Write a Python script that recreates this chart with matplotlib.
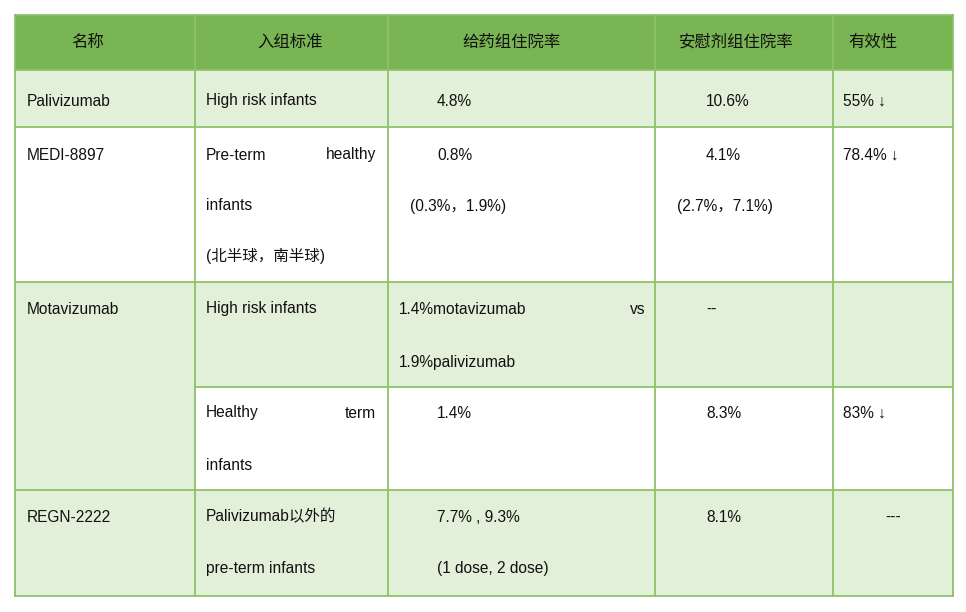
import matplotlib
matplotlib.use("Agg")
import matplotlib.pyplot as plt
from matplotlib.patches import Rectangle

plt.rcParams['font.family'] = ['Liberation Sans', 'Noto Sans CJK SC', 'DejaVu Sans']

headers = ["名称", "入组标准", "给药组住院率", "安慰剂组住院率", "有效性"]
names = ["Palivizumab", "MEDI-8897", "Motavizumab", "REGN-2222"]
criteria = ["High risk infants", "Pre-term healthy infants (北半球，南半球)",
            "High risk infants", "Healthy term infants", "Palivizumab以外的 pre-term infants"]
drug_rate = ["4.8%", "0.8% (0.3%，1.9%)", "1.4%motavizumab vs 1.9%palivizumab", "1.4%", "7.7% , 9.3% (1 dose, 2 dose)"]
placebo_rate = ["10.6%", "4.1% (2.7%，7.1%)", "--", "8.3%", "8.1%"]
efficacy = ["55% ↓", "78.4% ↓", "", "83% ↓", "---"]

HEAD = "#79b552"
LIGHT = "#e2efd9"
LINE = "#8dc26a"

fig = plt.figure(figsize=(9.66, 6.12), dpi=100)
ax = fig.add_axes([0, 0, 1, 1])
ax.set_xlim(0, 966); ax.set_ylim(612, 0); ax.axis("off")

cols = [15, 195, 388, 655, 833, 953]
L, R = cols[0], cols[-1]

def rect(x0, y0, x1, y1, c):
    ax.add_patch(Rectangle((x0, y0), x1 - x0, y1 - y0, facecolor=c, edgecolor="none"))

rect(L, 15, R, 70, HEAD)
rect(L, 70, R, 127, LIGHT)
rect(L, 127, R, 282, "white")
rect(L, 282, R, 387, LIGHT)
rect(L, 387, R, 490, "white")
rect(L, 387, cols[1], 490, LIGHT)
rect(L, 490, R, 596, LIGHT)

lw = 1.3
for y in [15, 70, 127, 282, 490, 596]:
    ax.plot([L, R], [y, y], color=LINE, lw=lw)
ax.plot([cols[1], R], [387, 387], color=LINE, lw=lw)
for x in cols:
    ax.plot([x, x], [15, 596], color=LINE, lw=lw)

fs = 11.2
def t(x, y, s, ha="left", size=fs):
    ax.text(x, y, s, ha=ha, va="center", fontsize=size, color="#111111")

for cx, h in zip([88, 290, 512, 736, 873], headers):
    t(cx, 42, h, ha="center", size=11.8)

# Row 1
t(27, 101, names[0]); t(206, 101, criteria[0]); t(437, 101, drug_rate[0])
t(706, 101, placebo_rate[0]); t(843, 101, efficacy[0])
# Row 2
c = criteria[1].split(" ")
t(27, 155, names[1]); t(206, 155, c[0]); t(376, 155, c[1], "right")
t(206, 206, c[2]); t(206, 256, c[3])
d = drug_rate[1].split(" ", 1)
t(437, 155, d[0]); t(410, 206, d[1])
p = placebo_rate[1].split(" ", 1)
t(706, 155, p[0]); t(677, 206, p[1])
t(843, 155, efficacy[1])
# Row 3
d = drug_rate[2].split(" ")
t(27, 309, names[2]); t(206, 309, criteria[2])
t(399, 309, d[0]); t(645, 309, d[1], "right"); t(399, 362, d[2])
t(706, 309, placebo_rate[2])
# Row 4
c = criteria[3].split(" ")
t(206, 413, c[0]); t(376, 413, c[1], "right"); t(206, 465, c[2])
t(437, 413, drug_rate[3]); t(706, 413, placebo_rate[3]); t(843, 413, efficacy[3])
# Row 5
c = criteria[4].split(" ", 1)
t(27, 517, names[3]); t(206, 517, c[0]); t(206, 569, c[1])
d = drug_rate[4].split(" (")
t(437, 517, d[0]); t(437, 569, "(" + d[1])
t(706, 517, placebo_rate[4]); t(893, 517, efficacy[4], "center")

fig.savefig("out.png", dpi=100)
